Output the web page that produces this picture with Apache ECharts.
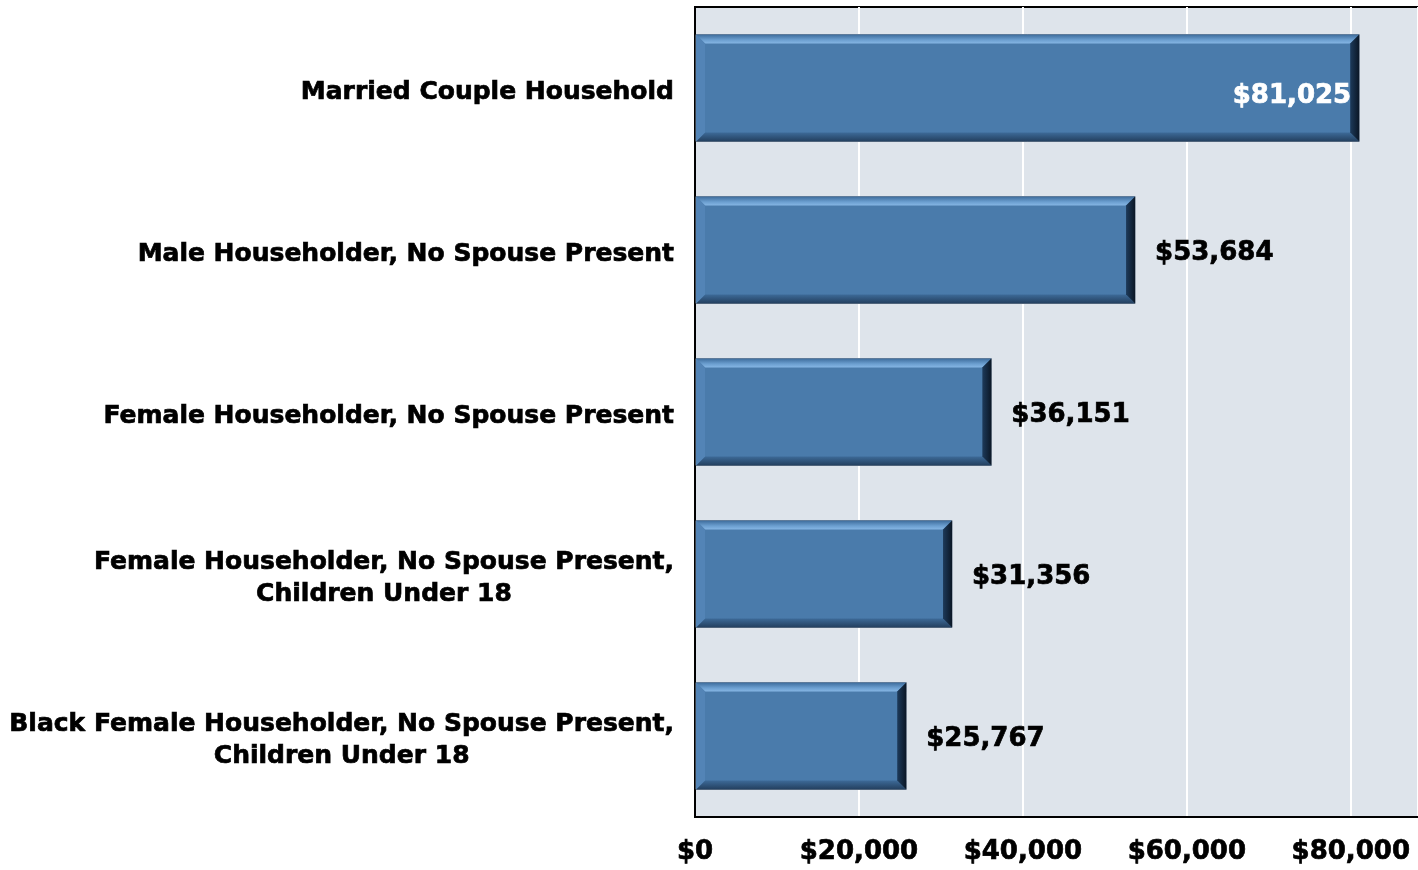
<!DOCTYPE html>
<html>
<head>
<meta charset="utf-8">
<script src="https://cdn.jsdelivr.net/npm/echarts@6/dist/echarts.min.js"></script>
<style>
html,body{margin:0;padding:0;background:#fff;}
#chart{width:1418px;height:870px;}
</style>
</head>
<body>
<div id="chart"></div>
<script>
const categories = [
  "Married Couple Household",
  "Male Householder, No Spouse Present",
  "Female Householder, No Spouse Present",
  "Female Householder, No Spouse Present,\nChildren Under 18",
  "Black Female Householder, No Spouse Present,\nChildren Under 18"
];
const incomes = [81025, 53684, 36151, 31356, 25767];
const xTicks = [0, 20000, 40000, 60000, 80000];

const FONT = "DejaVu Sans";
function money(v){ return "$" + v.toLocaleString("en-US"); }

const chart = echarts.init(document.getElementById("chart"), null, {renderer:"canvas"});

function renderBar(params, api){
  const cat = api.value(0);
  const val = api.value(1);
  const p0 = api.coord([0, cat]);
  const p1 = api.coord([val, cat]);
  const bandH = api.size([0, 1])[1];
  const h = bandH * 0.66;
  const x0 = p0[0] + 1, x1 = p1[0];
  const y0 = p0[1] - h/2, y1 = p0[1] + h/2;
  const b = 9;
  const children = [
    {type:"rect", shape:{x:x0, y:y0, width:x1-x0, height:h},
     style:{fill:"#4a7bab", stroke:"#7d8896", lineWidth:1}},
    {type:"polygon", shape:{points:[[x0,y0],[x1,y0],[x1-b,y0+b],[x0+b,y0+b]]},
     style:{fill:new echarts.graphic.LinearGradient(0,0,0,1,[
       {offset:0,color:"#3d6c9c"},{offset:0.6,color:"#6c9fd0"},{offset:1,color:"#86b6e4"}])}},
    {type:"polygon", shape:{points:[[x0,y1],[x1,y1],[x1-b,y1-b],[x0+b,y1-b]]},
     style:{fill:new echarts.graphic.LinearGradient(0,0,0,1,[
       {offset:0,color:"#3d6a98"},{offset:1,color:"#233f5e"}])}},
    {type:"polygon", shape:{points:[[x0,y0],[x0+b,y0+b],[x0+b,y1-b],[x0,y1]]},
     style:{fill:"#5384b6"}},
    {type:"polygon", shape:{points:[[x1,y0],[x1-b,y0+b],[x1-b,y1-b],[x1,y1]]},
     style:{fill:new echarts.graphic.LinearGradient(0,0,1,0,[
       {offset:0,color:"#1d3a5a"},{offset:1,color:"#0b1726"}])}}
  ];
  const text = money(val);
  const inside = x1 + 150 > api.getWidth();
  const col = inside ? "#ffffff" : "#000000";
  children.push({
    type:"text",
    style:{
      text:text, x: inside ? x1 - 8 : x1 + 20, y: p0[1] + (inside ? 8 : 3),
      align: inside ? "right" : "left", verticalAlign:"middle",
      fill: col, stroke: col, lineWidth: 0.7,
      font: "bold 26px '" + FONT + "'"
    },
    z2: 10
  });
  return {type:"group", children:children};
}

const option = {
  backgroundColor:"#ffffff",
  animation:false,
  grid:{
    left:695, top:7, bottom:53, right:0,
    show:true, backgroundColor:"#dee4eb", borderColor:"#000", borderWidth:2
  },
  xAxis:{
    type:"value", min:0, max:88200, interval:20000,
    axisLine:{show:true, lineStyle:{color:"#000", width:2}},
    axisTick:{show:false},
    splitLine:{show:true, lineStyle:{color:"#ffffff", width:2}},
    axisLabel:{
      margin:22, color:"#000", fontFamily:FONT, fontWeight:"bold", fontSize:26,
      textBorderColor:"#000", textBorderWidth:0.7,
      showMaxLabel:false,
      formatter:function(v){ return xTicks.indexOf(v) >= 0 ? money(v) : ""; }
    }
  },
  yAxis:{
    type:"category", data:categories, inverse:true,
    axisLine:{show:true, lineStyle:{color:"#000", width:2}},
    axisTick:{show:false},
    splitLine:{show:false},
    axisLabel:{
      margin:21, align:"right", padding:[8,0,0,0],
      formatter:function(v){
        return v.split("\n").map(function(s){ return "{a|" + s + "}"; }).join("\n");
      },
      rich:{a:{align:"center", color:"#000", fontFamily:FONT, fontWeight:"bold", fontSize:25, lineHeight:32,
               textBorderColor:"#000", textBorderWidth:0.7}}
    }
  },
  series:[{
    type:"custom",
    renderItem:renderBar,
    encode:{x:1, y:0},
    data:incomes.map(function(v,i){ return [i, v]; }),
    clip:false,
    z:5
  }]
};
chart.setOption(option);
</script>
</body>
</html>
